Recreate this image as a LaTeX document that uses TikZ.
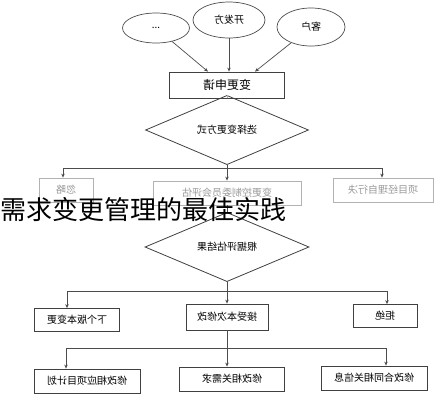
\documentclass[tikz,border=0pt]{standalone}
\usepackage{graphicx}
\usepackage{fontspec}
\setmainfont{Noto Sans CJK SC}
\usetikzlibrary{arrows.meta,shapes.geometric}

\definecolor{linkblue}{RGB}{150,190,200}
\newcommand{\flip}[1]{\scalebox{-1}[1]{#1}}

\begin{document}
\begin{tikzpicture}[
  x=1pt, y=-1pt,
  font=\fontsize{10}{12}\selectfont,
  src/.style={draw=black!70, ellipse, line width=0.7pt, inner sep=0pt},
  box/.style={draw=black!75, line width=0.8pt, minimum height=24pt, inner sep=0pt},
  fbox/.style={draw=black!30, line width=0.8pt, minimum height=24pt, inner sep=0pt, text=black!40},
  dec/.style={draw=black!75, diamond, line width=0.8pt, minimum width=163pt, minimum height=36pt, inner sep=0pt},
  ln/.style={draw=black!70, line width=0.7pt},
  arr/.style={ln, -{Stealth[length=4pt, width=3.5pt]}},
]
\useasboundingbox (0,0) rectangle (444,400);

% ---------------- Sources of a change ----------------
\node[src, minimum width=67pt, minimum height=30pt] (etc)  at (156,28) {\flip{...}};
\node[src, minimum width=72pt, minimum height=36pt] (dev)  at (229,20) {\flip{开发方}};
\node[src, minimum width=68pt, minimum height=38pt] (cust) at (311,27) {\flip{客户}};

\node[box, minimum width=115pt, minimum height=26pt, font=\fontsize{12}{14}\selectfont] (req) at (227,85) {\flip{变更申请}};

\draw[arr] (etc)        -- ([xshift=-19pt]req.north);
\draw[arr] (dev.south)  -- (dev.south |- req.north);
\draw[arr] (cust)       -- ([xshift=28pt]req.north);

% ---------------- Choose the way ----------------
\node[dec] (d1) at (227,130) {\flip{选择变更方式}};
\draw[draw=linkblue, line width=0.7pt] (req.south) -- (d1.north);

\node[fbox, minimum width=54pt]  (ign) at (66,190)  {\flip{忽略}};
\node[fbox, minimum width=148pt] (ccb) at (227,193) {\flip{变更控制委员会评估}};
\node[fbox, minimum width=100pt] (pm)  at (383,190) {\flip{项目经理自行决}};

\coordinate (j1)  at (227,168);
\coordinate (a1l) at (63,168);
\coordinate (a1r) at (382,168);
\draw[ln]  (d1.south) -- (j1);
\draw[ln]  (a1l) -- (a1r);
\draw[arr] (a1l) -- (ign.north -| a1l);
\draw[arr] (j1)  -- (ccb.north);
\draw[arr] (a1r) -- (pm.north -| a1r);

% ---------------- Evaluation result ----------------
\node[dec, minimum width=164pt, minimum height=40pt] (d2) at (227,247) {\flip{根据评估结果}};
\draw[ln] (ccb.south) -- (d2.north);

\node[box, minimum width=85pt, minimum height=23pt] (next) at (77,320)  {\flip{下个版本变更}};
\node[box, minimum width=82pt, minimum height=26pt] (acc)  at (227,317) {\flip{接受本次修改}};
\node[box, minimum width=64pt, minimum height=23pt] (rej)  at (385,316) {\flip{拒绝}};

\coordinate (j2)  at (227,291);
\coordinate (a2l) at (67,291);
\coordinate (a2r) at (387,291);
\draw[ln]  (d2.south) -- (j2);
\draw[ln]  (a2l) -- (a2r);
\draw[arr] (a2l) -- (next.north -| a2l);
\draw[arr] (j2)  -- (acc.north);
\draw[arr] (a2r) -- (rej.north -| a2r);

% ---------------- Follow-up changes ----------------
\node[box, minimum width=106pt] (plan) at (87,381)  {\flip{修改相应项目计划}};
\node[box, minimum width=105pt] (need) at (232,379) {\flip{修改相关需求}};
\node[box, minimum width=106pt] (cont) at (374,378) {\flip{修改合同相关信息}};

\coordinate (j3)  at (227,348);
\coordinate (a3l) at (66,348);
\coordinate (a3r) at (386,348);
\draw[ln]  (acc.south) -- (j3);
\draw[ln]  (a3l) -- (a3r);
\draw[arr] (a3l) -- (plan.north -| a3l);
\draw[arr] (j3)  -- (need.north -| j3);
\draw[arr] (a3r) -- (cont.north -| a3r);

% ---------------- Caption over the chart ----------------
\node[anchor=base west, inner sep=0pt, font=\fontsize{26}{26}\selectfont] (title) at (0,219) {需求变更管理的最佳实践};

\end{tikzpicture}
\end{document}
